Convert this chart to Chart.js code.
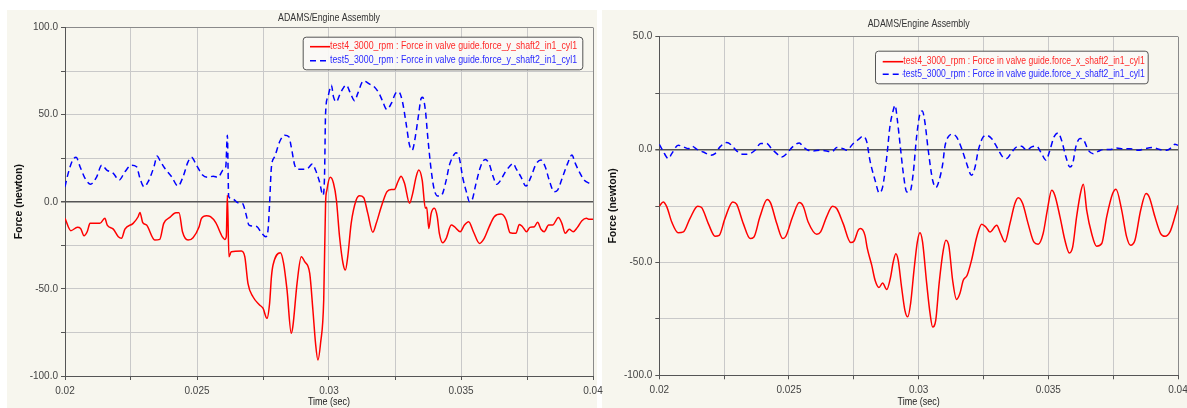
<!DOCTYPE html>
<html><head><meta charset="utf-8">
<script src="https://cdn.jsdelivr.net/npm/chart.js@4/dist/chart.umd.min.js"></script>
<style>
html,body{margin:0;padding:0;background:#fff;width:1187px;height:408px;overflow:hidden;position:relative}
.panel{position:absolute;background:#f7f6ee}
canvas{position:absolute;top:0}
</style></head><body>
<div class="panel" style="left:7px;top:10px;width:590px;height:398px"></div>
<div class="panel" style="left:602px;top:10px;width:585px;height:398px"></div>
<canvas id="cL" width="610" height="408" style="left:0"></canvas>
<canvas id="cR" width="597" height="408" style="left:590px"></canvas>
<script>
const chartTitle = 'ADAMS/Engine Assembly';
const xAxisTitle = 'Time (sec)';
const yAxisTitle = 'Force (newton)';
const xTickLabels = ['0.02','0.025','0.03','0.035','0.04'];
const leftYTickLabels = ['100.0','50.0','0.0','-50.0','-100.0'];
const rightYTickLabels = ['50.0','0.0','-50.0','-100.0'];
const leftLegend = ['test4_3000_rpm : Force in valve guide.force_y_shaft2_in1_cyl1','test5_3000_rpm : Force in valve guide.force_y_shaft2_in1_cyl1'];
const rightLegend = ['test4_3000_rpm : Force in valve guide.force_x_shaft2_in1_cyl1','test5_3000_rpm : Force in valve guide.force_x_shaft2_in1_cyl1'];

// Left panel: force_y
const yTest4T = [0.02,0.02022,0.02047,0.02059,0.02072,0.02084,0.02095,0.02132,0.02151,0.0216,
0.02183,0.02202,0.02214,0.02227,0.02258,0.02277,0.02284,0.02294,0.02309,0.0234,
0.02359,0.02374,0.02397,0.0242,0.02432,0.02445,0.02466,0.02485,0.02508,0.02517,
0.02536,0.02551,0.02571,0.02596,0.02605,0.02611,0.02615,0.02621,0.0263,0.02668,
0.02681,0.02693,0.02712,0.02737,0.0275,0.02765,0.02775,0.02782,0.02788,0.02816,
0.02828,0.02841,0.02857,0.02863,0.02879,0.02895,0.02908,0.02927,0.02939,0.02949,
0.02958,0.02968,0.0298,0.02987,0.02992,0.03005,0.03017,0.03028,0.0304,0.03053,
0.03062,0.03071,0.03084,0.03103,0.03116,0.03131,0.03147,0.03166,0.03179,0.03198,
0.03219,0.03236,0.03248,0.03261,0.03273,0.03286,0.03305,0.03317,0.0333,0.0334,
0.03353,0.03365,0.0337,0.03378,0.03387,0.03399,0.0341,0.03418,0.03431,0.03444,
0.03463,0.03475,0.03497,0.03513,0.03529,0.03547,0.0357,0.03588,0.03607,0.03626,
0.03652,0.03671,0.03686,0.03708,0.03721,0.03733,0.03748,0.03761,0.03778,0.0379,
0.03803,0.03815,0.03832,0.03847,0.03869,0.03882,0.03895,0.0391,0.03925,0.03941,
0.03958,0.03975,0.03986,0.04];
const yTest4V = [-9.5,-16.6,-14.7,-15.3,-19.5,-17.2,-12.4,-12.4,-9.5,-13.4,
-15.7,-20.1,-21,-15.7,-12.4,-8.6,-6.1,-11.8,-13.4,-22,
-21.6,-12.4,-9,-6.3,-6.3,-17.2,-22,-20.6,-14.3,-9.5,
-8,-8.6,-12,-20.1,-21.6,-20,3.8,-31.5,-28.7,-28.3,
-31.5,-46.8,-54.5,-59.2,-61.1,-66.9,-58.3,-43,-36.3,-29.2,
-35.3,-50.6,-75.5,-71.7,-46.8,-31.5,-34.4,-41.1,-62.1,-81.2,
-90.8,-81.2,-56.4,-0.9,6.7,14,10.6,1,-20.1,-35.3,
-39.2,-31.5,-12.4,1,3.4,2.5,-6.7,-17.5,-12.4,-2.9,
5.7,7.1,7.1,11.5,14.7,10.6,-0.9,4.8,14.3,18.2,
12.4,-3.8,-3.2,-15.3,-6.7,-3.8,-8.6,-18.1,-23.5,-21,
-13.4,-14.3,-17.2,-13.4,-11.5,-17.2,-23.9,-21,-14.3,-8.6,
-7.1,-10.5,-17.8,-18.1,-13,-14.3,-17.2,-14.7,-14.3,-11.8,
-15.8,-17.2,-13.4,-13.4,-9,-12.4,-18.1,-15.8,-17.2,-14.7,
-10.9,-9.5,-10.1,-10];
const yTest5T = [0.02,0.02012,0.02029,0.02042,0.02057,0.02076,0.02097,0.0212,0.02139,0.02158,
0.02183,0.02205,0.02227,0.02252,0.02271,0.02284,0.02299,0.02315,0.02337,0.02349,
0.02359,0.02378,0.02404,0.02428,0.02447,0.02466,0.02479,0.02498,0.02521,0.02542,
0.02561,0.0258,0.02599,0.02609,0.02615,0.0262,0.02637,0.02655,0.02672,0.02685,
0.02697,0.02712,0.02727,0.02744,0.0276,0.02769,0.02775,0.02782,0.02794,0.02813,
0.02832,0.02848,0.02857,0.0287,0.02882,0.02901,0.0292,0.02937,0.02949,0.02964,
0.02977,0.02983,0.02987,0.02996,0.03009,0.03017,0.03028,0.0304,0.03053,0.03065,
0.03084,0.03097,0.03109,0.03131,0.03154,0.03172,0.03191,0.03204,0.03219,0.03236,
0.03252,0.03264,0.03277,0.03292,0.03305,0.03315,0.03327,0.0334,0.03349,0.03355,
0.03365,0.03374,0.03387,0.03399,0.03412,0.03425,0.03444,0.03456,0.03469,0.03481,
0.03494,0.03506,0.03522,0.03532,0.03542,0.03557,0.03576,0.03592,0.03607,0.03622,
0.03635,0.03652,0.03668,0.03683,0.03698,0.03708,0.03727,0.03746,0.03765,0.03784,
0.03803,0.03819,0.03834,0.03853,0.03866,0.03885,0.03904,0.0392,0.03933,0.03948,
0.03967,0.03986,0.04];
const yTest5V = [8.6,16.3,23.9,25.5,20.1,13.4,10.1,14.3,21,18.2,
16.3,12.4,17.2,21,20.1,13.4,8.6,11.5,20.1,26.2,
23.9,19.2,14.3,9,14.3,22.9,25.5,21,15.3,14,
14.7,14,18.2,20.1,38.2,2.9,1.4,-0.6,-0.9,-6.7,
-13.4,-13.9,-14.3,-17.8,-20.1,-16.2,-0.9,20.1,25.8,34.4,
38.2,37.3,31.5,21,18.6,18.6,19.2,21.6,18.2,11.5,
3.8,14.3,50.7,60.2,66.9,60.2,57.3,61.2,65,66.9,
61.2,57.9,62.2,69.4,67.5,65.9,61.8,57.3,53,56.4,
62.2,63.1,58.3,45,32.5,29.6,37.3,50.7,59.3,59.9,
52.6,37.3,18.2,6.7,3.3,3.5,12.4,21,25.8,28.1,
24.9,14.3,4.8,0,1,10.6,21,24.3,21.6,14.3,
10,12.8,17.2,20.1,22,19.2,14.3,9,14.3,21.6,
23.9,20.1,12.4,5.7,6.7,14.3,22,26.8,22,17.2,
12.4,10.6,10];

// Right panel: force_x
const xTest4T = [0.02,0.02015,0.02029,0.02048,0.02073,0.02093,0.02118,0.02148,0.02163,0.02189,
0.02215,0.02231,0.02253,0.02283,0.02298,0.02324,0.0235,0.02365,0.02388,0.02416,
0.02429,0.02453,0.02476,0.02488,0.02514,0.0254,0.02555,0.02574,0.02607,0.02622,
0.02645,0.02668,0.02684,0.02709,0.02738,0.02751,0.02767,0.02776,0.02793,0.02802,
0.02819,0.02832,0.02847,0.02861,0.02877,0.02892,0.02902,0.02912,0.02921,0.02934,
0.02947,0.02958,0.02969,0.02982,0.02995,0.03005,0.03015,0.03031,0.03044,0.03054,
0.03066,0.03079,0.03095,0.03105,0.03117,0.03131,0.03146,0.03159,0.03172,0.03187,
0.03204,0.03224,0.03243,0.03259,0.03275,0.03301,0.03316,0.03333,0.03352,0.03371,
0.03384,0.03401,0.03422,0.03444,0.03461,0.0348,0.03496,0.03513,0.03525,0.03545,
0.03564,0.03581,0.03594,0.03609,0.03625,0.03635,0.03648,0.03667,0.03686,0.03706,
0.03725,0.03748,0.03761,0.03783,0.03802,0.03817,0.03834,0.03856,0.03877,0.03889,
0.03911,0.03933,0.0395,0.03969,0.03988,0.04];
const xTest4V = [-25.1,-23.2,-25.4,-32.1,-36.9,-36.5,-30.6,-25.1,-25.7,-32.8,
-38.4,-38,-30.6,-23.2,-24.2,-32.8,-39.4,-38.7,-29.8,-22.1,
-23.6,-32.8,-39.4,-38.4,-29.8,-23.5,-25.1,-32.1,-37.5,-36.5,
-29.8,-25.1,-26.1,-32.8,-41.2,-40.5,-35.7,-35,-38,-43.8,
-51.2,-57.9,-61.1,-59.1,-62,-56.4,-49.8,-46.1,-49,-60.8,
-71.2,-74.1,-68.2,-53.5,-40.9,-36.9,-40.9,-59.3,-72.6,-78.6,
-75.6,-59.3,-44.6,-40.2,-43.1,-57.9,-66.4,-63.8,-57.9,-55.7,
-49,-38.7,-33.1,-34.3,-36.5,-33.5,-37.2,-40.9,-32.8,-23.9,
-21.3,-23.9,-32.8,-40.9,-41.9,-37.2,-26.9,-18,-20.2,-29.8,
-40.2,-45.8,-43.1,-29.8,-18.8,-15.4,-26.9,-37.2,-42.8,-41.6,
-29.8,-19.5,-17.6,-26.9,-38.7,-42.4,-40.2,-26.9,-19.5,-21,
-29.8,-37.2,-38.4,-36.5,-29.8,-24.7];
const xTest5T = [0.02,0.02013,0.02035,0.02048,0.02073,0.02093,0.02112,0.02125,0.02147,0.0217,
0.02199,0.02215,0.02234,0.0226,0.02279,0.02298,0.02324,0.0235,0.02369,0.02391,
0.02414,0.02433,0.02453,0.02472,0.02491,0.02514,0.0254,0.02555,0.02574,0.02594,
0.0262,0.02645,0.02665,0.02684,0.02709,0.02722,0.02748,0.02767,0.02786,0.028,
0.02812,0.02832,0.02848,0.02861,0.02877,0.02889,0.02902,0.02909,0.02918,0.02928,
0.02941,0.02954,0.02966,0.02979,0.02992,0.03005,0.03014,0.03024,0.03037,0.03054,
0.03067,0.03079,0.03093,0.03101,0.03114,0.03131,0.03146,0.03166,0.03185,0.03204,
0.03217,0.0323,0.03249,0.03262,0.03281,0.03301,0.03324,0.03339,0.03359,0.03378,
0.03397,0.03416,0.03436,0.03455,0.03474,0.03491,0.03506,0.03522,0.03538,0.03551,
0.03568,0.03583,0.03594,0.03606,0.03622,0.03637,0.03654,0.03673,0.03692,0.03712,
0.03737,0.03763,0.03789,0.03815,0.03847,0.03872,0.03904,0.0393,0.03956,0.03975,
0.03988,0.04];
const xTest5V = [2.3,-0.3,-4,-1.8,1.9,1.2,0.4,1.5,0,-1.1,
-2.5,-1.8,1.2,3.1,1.9,-0.6,-2.1,-1.8,-0.3,2.7,
2.7,0.4,-1.8,-3.3,-1.8,1.2,2.9,1.2,-0.3,-0.6,
-0.3,-0.6,-1.1,0.9,0.4,-0.3,2.7,4.4,5.9,3.4,
-4.7,-13.6,-19.2,-16.6,-3.3,10,17.4,19.6,13,2.7,
-10.6,-18.8,-18.8,-10.6,5.6,15.9,17.1,12.2,-0.3,-13.6,
-16.8,-13.6,-6.2,1.2,5.6,6.8,5.6,0.4,-6.2,-11.4,
-8,-0.3,5.6,6.3,4.9,1.2,-3.3,-4,-1.1,1.2,
1.5,-0.3,1.2,1.5,-1.8,-4.7,-0.3,5.6,7.4,4.1,
-3.3,-7.7,-6.2,1.2,4.9,4.1,-0.3,-1.8,-0.8,0,
0,0.7,0.3,0.4,-0.3,0.4,0.9,0,-0.3,0.9,
2.3,1.9];

const RED = '#ff0000', BLUE = '#0000ff';
const FONT = '"Liberation Sans", Arial, sans-serif';

function pts(T, V){ return T.map((t,i)=>({x:t, y:V[i]})); }
function findLabel(list, v, eps){ const s = list.find(s => Math.abs(parseFloat(s) - v) < eps); return s === undefined ? '' : s; }

// draw text with a slight horizontal condensation (the reference uses a condensed UI font)
function condensedText(ctx, text, x, y, font, sx, align, color){
  ctx.save();
  ctx.font = font; ctx.fillStyle = color; ctx.textBaseline = 'middle'; ctx.textAlign = align;
  ctx.translate(x, y); ctx.scale(sx, 1);
  ctx.fillText(text, 0, 0);
  ctx.restore();
}

function makePanel(cfg){
  const textPlugin = {
    id:'panelText',
    afterDraw(chart){
      const ctx = chart.ctx, a = chart.chartArea;
      const cx = (a.left + a.right)/2;
      condensedText(ctx, chartTitle, cx, cfg.titleY, '10.5px ' + FONT, 0.84, 'center', '#333');
      condensedText(ctx, xAxisTitle, cx, 402, '10px ' + FONT, 0.9, 'center', '#222');
      ctx.save();
      ctx.translate(cfg.yTitleX, (a.top + a.bottom)/2);
      ctx.rotate(-Math.PI/2);
      ctx.font = 'bold 10.5px ' + FONT;
      ctx.fillStyle = '#111'; ctx.textAlign = 'center'; ctx.textBaseline = 'middle';
      ctx.fillText(yAxisTitle, 0, 0);
      ctx.restore();
      // legend box
      const L = cfg.legend;
      ctx.save();
      ctx.beginPath();
      if (ctx.roundRect) ctx.roundRect(L.x+0.5, L.y+0.5, L.w, L.h, 3); else ctx.rect(L.x+0.5, L.y+0.5, L.w, L.h);
      ctx.fillStyle = 'rgba(250,250,246,0.9)';
      ctx.fill();
      ctx.strokeStyle = '#555'; ctx.lineWidth = 1; ctx.stroke();
      chart.data.datasets.forEach((ds, i) => {
        const y = L.y + L.row0 + i*L.rowGap;
        ctx.beginPath();
        ctx.setLineDash(ds.borderDash || []);
        ctx.strokeStyle = ds.borderColor; ctx.lineWidth = 1.6;
        ctx.moveTo(L.x + L.s0, y); ctx.lineTo(L.x + L.s1, y); ctx.stroke();
        ctx.setLineDash([]);
        condensedText(ctx, ds.label, L.x + L.s1, y, '10px ' + FONT, L.sx, 'left', i === 0 ? '#ff2a2a' : '#2a2aff');
      });
      ctx.restore();
    }
  };
  const xTicks = []; for (let k = 0; k <= 8; k++) xTicks.push({value: +(0.02 + k*0.0025).toFixed(5)});
  const yTicks = []; for (let v = cfg.yMin; v <= cfg.yMax; v += 25) yTicks.push({value: v});
  return new Chart(document.getElementById(cfg.id), {
    type:'scatter',
    data:{ datasets:[
      { label: cfg.labels[0], data: pts(cfg.s4T, cfg.s4V), showLine:true, borderColor:RED, borderWidth:1.5, pointRadius:0, cubicInterpolationMode:'monotone', fill:false },
      { label: cfg.labels[1], data: pts(cfg.s5T, cfg.s5V), showLine:true, borderColor:BLUE, borderWidth:1.5, borderDash:[6,4], pointRadius:0, cubicInterpolationMode:'monotone', fill:false }
    ]},
    options:{
      responsive:false, animation:false, devicePixelRatio:1,
      layout:{ padding:{ top:cfg.padTop, right:cfg.padRight, left:0, bottom:0 } },
      plugins:{ legend:{display:false}, title:{display:false}, tooltip:{enabled:false} },
      scales:{
        x:{ type:'linear', min:0.02, max:0.04,
          afterBuildTicks(s){ s.ticks = xTicks.map(t => ({value:t.value})); },
          afterFit(s){ s.height = cfg.xHeight; s.paddingLeft = 0; s.paddingRight = 0; },
          grid:{ color: c => (c.index === 0 || c.index === 8) ? '#8a8a8a' : '#c9c9c9', lineWidth:1, tickLength:4, tickColor:'#555' },
          border:{ color:'#555', width:1 },
          ticks:{ autoSkip:false, maxRotation:0, padding:5, color:'#444', font:{family:FONT, size:10},
            callback:(v)=> findLabel(xTickLabels, v, 1e-6) }
        },
        y:{ type:'linear', min:cfg.yMin, max:cfg.yMax,
          afterBuildTicks(s){ s.ticks = yTicks.map(t => ({value:t.value})); },
          afterFit(s){ s.width = cfg.yWidth; s.paddingTop = 0; s.paddingBottom = 0; },
          grid:{ color: c => c.tick.value === 0 ? '#555' : (c.tick.value === cfg.yMax ? '#8a8a8a' : '#c9c9c9'),
                 lineWidth: c => c.tick.value === 0 ? 1.5 : 1, tickLength:4, tickColor:'#555' },
          border:{ color:'#555', width:1 },
          ticks:{ padding:3, color:'#444', font:{family:FONT, size:10},
            callback:(v)=> findLabel(cfg.yLabels, v, 1e-6) }
        }
      }
    },
    plugins:[textPlugin]
  });
}

makePanel({ id:'cL', labels:leftLegend, s4T:yTest4T, s4V:yTest4V, s5T:yTest5T, s5V:yTest5V,
  yMin:-100, yMax:100, yLabels:leftYTickLabels, padTop:27.5, padRight:17, yWidth:65, xHeight:32,
  titleY:18.5, yTitleX:19.5,
  legend:{ x:302.7, y:36.7, w:279.6, h:32.6, row0:10, rowGap:14, s0:7.3, s1:27.3, sx:0.88 } });

makePanel({ id:'cR', labels:rightLegend, s4T:xTest4T, s4V:xTest4V, s5T:xTest5T, s5V:xTest5V,
  yMin:-100, yMax:50, yLabels:rightYTickLabels, padTop:36.7, padRight:9, yWidth:69.3, xHeight:32.7,
  titleY:24, yTitleX:23,
  legend:{ x:285, y:50.7, w:272.7, h:32.6, row0:11, rowGap:12.6, s0:7.7, s1:28.3, sx:0.86 } });
</script>
</body></html>
